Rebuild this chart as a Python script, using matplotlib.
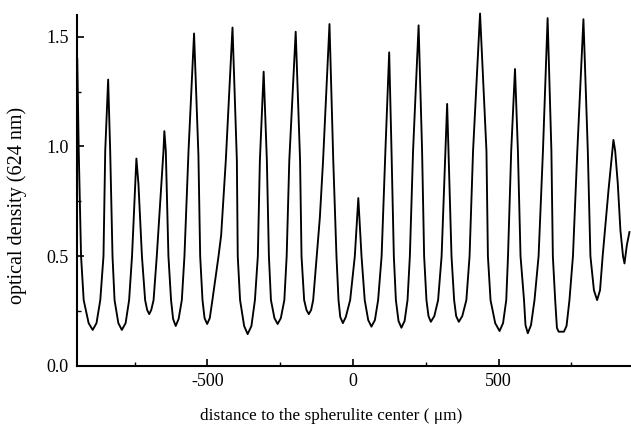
import matplotlib
matplotlib.use("Agg")
import matplotlib.pyplot as plt
from matplotlib.ticker import MultipleLocator

# optical density profile (distance in um, OD at 624 nm)
distance = [
    -947, -942, -934, -925, -908, -894, -881, -868, -857, -851,
    -841, -834, -826, -819, -806, -794, -781, -769, -759, -748,
    -744, -737, -725, -714, -707, -700, -693, -685, -674, -651,
    -648, -643, -634, -625, -618, -609, -599, -588, -579, -565,
    -546, -531, -525, -517, -510, -501, -492, -483, -462, -453,
    -437, -414, -399, -396, -388, -374, -362, -349, -337, -327,
    -320, -307, -296, -289, -282, -270, -259, -248, -236, -228,
    -219, -197, -182, -177, -168, -160, -152, -144, -137, -125,
    -114, -103, -81, -68, -57, -50, -44, -35, -25, -10,
    6, 18, 29, 40, 52, 63, 75, 86, 98, 111,
    124, 132, 140, 147, 156, 166, 177, 187, 195, 206,
    225, 237, 244, 252, 259, 267, 279, 292, 304,
    323, 338, 347, 354, 363, 375, 389, 400, 412,
    436, 458, 463, 472, 488, 503, 515, 526, 532, 543,
    556, 566, 575, 587, 592, 600, 611, 623, 637, 652,
    668, 681, 686, 694, 700, 706, 724, 733, 743, 755,
    770, 791, 806, 815, 827, 838, 848, 857, 877, 894,
    900, 909, 918, 927, 932, 940, 949,
]
density = [
    1.40, 0.98, 0.50, 0.30, 0.195, 0.164, 0.195, 0.30, 0.50, 0.98,
    1.305, 0.98, 0.50, 0.30, 0.195, 0.164, 0.195, 0.30, 0.50, 0.83,
    0.945, 0.83, 0.50, 0.30, 0.255, 0.236, 0.255, 0.30, 0.50, 0.98,
    1.07, 0.98, 0.50, 0.30, 0.214, 0.182, 0.214, 0.30, 0.50, 0.98,
    1.515, 0.96, 0.50, 0.30, 0.218, 0.191, 0.218, 0.30, 0.50, 0.595,
    0.936, 1.542, 0.936, 0.50, 0.30, 0.182, 0.145, 0.182, 0.30, 0.50,
    0.936, 1.341, 0.936, 0.50, 0.30, 0.218, 0.191, 0.218, 0.30, 0.50,
    0.936, 1.523, 0.936, 0.50, 0.30, 0.255, 0.236, 0.255, 0.30, 0.50,
    0.677, 0.936, 1.558, 0.936, 0.50, 0.30, 0.223, 0.195, 0.223, 0.30,
    0.50, 0.765, 0.50, 0.30, 0.209, 0.179, 0.209, 0.30, 0.50, 0.98,
    1.429, 0.98, 0.50, 0.30, 0.205, 0.174, 0.205, 0.30, 0.50, 0.98,
    1.552, 0.98, 0.50, 0.30, 0.227, 0.201, 0.227, 0.30, 0.50,
    1.194, 0.50, 0.30, 0.227, 0.201, 0.227, 0.30, 0.50, 0.98,
    1.606, 0.98, 0.50, 0.30, 0.195, 0.159, 0.195, 0.30, 0.50, 0.98,
    1.353, 0.98, 0.50, 0.30, 0.186, 0.149, 0.186, 0.30, 0.50, 0.98,
    1.585, 0.98, 0.50, 0.30, 0.173, 0.156, 0.156, 0.182, 0.30, 0.50,
    0.98, 1.58, 0.98, 0.50, 0.345, 0.30, 0.345, 0.50, 0.80, 1.03,
    0.98, 0.83, 0.618, 0.50, 0.467, 0.55, 0.61,
]

x_ticks = [-500, 0, 500]
y_ticks = [0.0, 0.5, 1.0, 1.5]

plt.rcParams['font.family'] = ['Liberation Serif', 'DejaVu Serif']
plt.rcParams['font.size'] = 13

fig = plt.figure(figsize=(6.31, 4.24), dpi=100)
ax = fig.add_axes([0.122, 0.137, 0.876, 0.828])

ax.plot(distance, density, color='black', lw=1.35, clip_on=False)

ax.set_xlim(-948, 950)
ax.set_ylim(0, 1.6)
ax.set_xticks(x_ticks)
ax.set_xticklabels(['-500', '0', '500'])
ax.set_yticks(y_ticks)
ax.set_yticklabels(['0.0', '0.5', '1.0', '1.5'])
ax.xaxis.set_minor_locator(MultipleLocator(250))
ax.yaxis.set_minor_locator(MultipleLocator(0.25))

for side in ['top', 'right']:
    ax.spines[side].set_visible(False)
for side in ['left', 'bottom']:
    ax.spines[side].set_linewidth(1.5)

ax.tick_params(which='major', direction='in', length=5, width=1.2)
ax.tick_params(which='minor', direction='in', length=3, width=1.0)
ax.tick_params(axis='y', which='both', pad=6)
ax.tick_params(axis='x', which='both', pad=5)

ax.set_xlabel('distance to the spherulite center ( \u03bcm)', fontsize=12.4)
ax.set_ylabel('optical density (624 nm)', fontsize=14.5)
ax.xaxis.set_label_coords(0.46, -0.12)
ax.yaxis.set_label_coords(-0.09, 0.456)

fig.savefig('out.png', dpi=100)
